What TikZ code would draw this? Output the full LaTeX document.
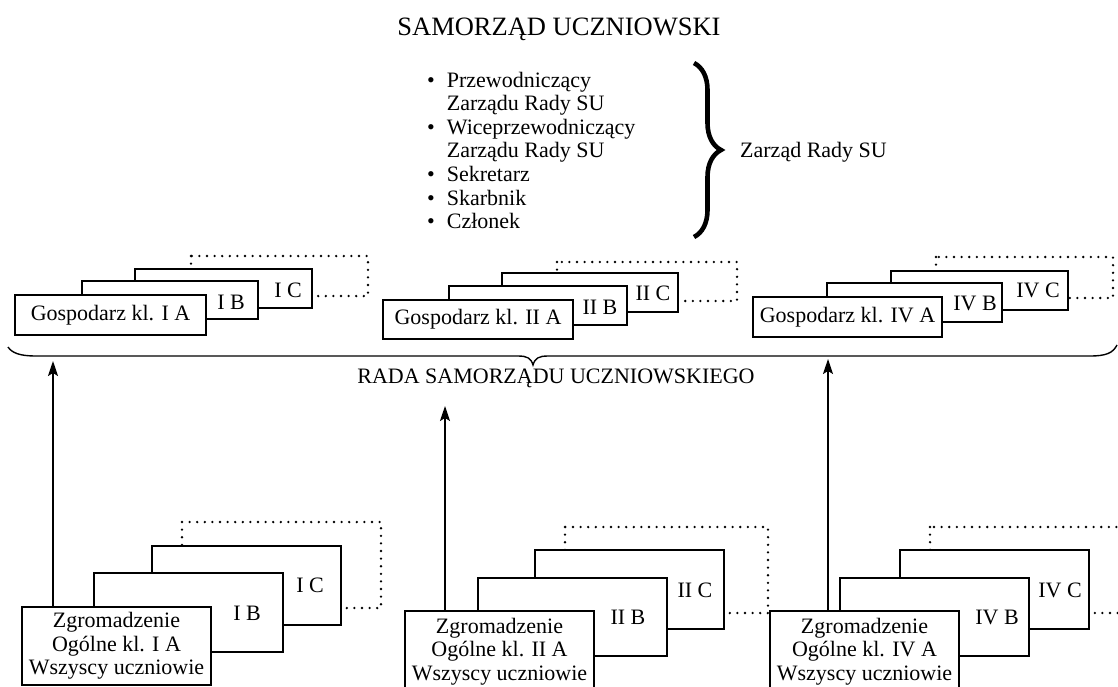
\documentclass[tikz,border=0pt]{standalone}
\usepackage{fontspec}
\setmainfont{Liberation Serif}
\usetikzlibrary{arrows.meta,decorations.pathreplacing}
\newcommand\mybox[6]{\node[card,minimum width=#4pt-#2pt,minimum height=#5pt-#3pt] (#1) at ({(#2+#4)/2},{(#3+#5)/2}) {#6};}
\begin{document}
\begin{tikzpicture}[x=1pt,y=-1pt,
  card/.style={draw, fill=white, line width=1.2pt, inner sep=0pt, align=center,
    font=\fontsize{22}{23.5}\selectfont},
  lbl/.style={inner sep=0pt, font=\fontsize{22}{23.6}\selectfont},
  dots/.style={line width=2.6pt, line cap=round, dash pattern=on 0pt off 7.6pt},
  arr/.style={line width=1.3pt, -{Stealth[length=15pt,width=10pt,inset=3pt]}},
  brc/.style={line width=1.4pt}]
\useasboundingbox (0,0) rectangle (1118,686);
\fill[white] (0,0) rectangle (1118,686);
\clip (0,0) rectangle (1118,686);

% title and board
\node[inner sep=0pt, font=\fontsize{26.5}{30}\selectfont] (title) at (559,29) {SAMORZĄD UCZNIOWSKI};
\node[lbl, anchor=base west] (list) at (427,87) {%
  \begin{tabular}[t]{@{}l@{\hspace{12pt}}l@{}}
  • & Przewodniczący\\
    & Zarządu Rady SU\\
  • & Wiceprzewodniczący\\
    & Zarządu Rady SU\\
  • & Sekretarz\\
  • & Skarbnik\\
  • & Członek
  \end{tabular}};
\draw[line width=4.6pt, decorate, decoration={brace, amplitude=27pt}] (694,63) -- (694,237);
\node[lbl, anchor=west] (zarzad) at (740,152) {Zarząd Rady SU};

% top groups
\draw[dots] (191,256) rectangle (368,296);
\mybox{gC1}{135}{269}{312}{308}{}
\mybox{gB1}{82}{281}{258}{319}{}
\mybox{gA1}{15}{295}{206}{335}{Gospodarz kl. I A}
\node[lbl] (tC1) at (288,290) {I C};
\node[lbl] (tB1) at (231,302) {I B};

\draw[dots] (557,262) rectangle (737,301);
\mybox{gC2}{502}{273}{678}{312}{}
\mybox{gB2}{449}{286}{627}{325}{}
\mybox{gA2}{383}{300}{573}{339}{Gospodarz kl. II A}
\node[lbl] (tC2) at (653,293) {II C};
\node[lbl] (tB2) at (600,307) {II B};

\draw[dots] (936,257) rectangle (1113,298);
\mybox{gC3}{891}{271}{1068}{310}{}
\mybox{gB3}{827}{283}{1002}{322}{}
\mybox{gA3}{753}{297}{942}{337}{Gospodarz kl. IV A}
\node[lbl] (tC3) at (1038,290) {IV C};
\node[lbl] (tB3) at (975,303) {IV B};

% brace under the council
\draw[brc] (8,347) .. controls (12,353) and (20,356) .. (36,356) -- (518,356)
  .. controls (527,356) and (531,358) .. (533,365)
  .. controls (535,358) and (539,356) .. (548,356) -- (1090,356)
  .. controls (1106,356) and (1113,353) .. (1117,345);
\node[lbl] (rada) at (556,378) {RADA SAMORZĄDU UCZNIOWSKIEGO};

% bottom groups
\draw[dots] (182,522) rectangle (381,608);
\mybox{zC1}{152}{546}{341}{625}{}
\mybox{zB1}{94}{573}{283}{652}{}
\mybox{zA1}{22}{607}{211}{685}{Zgromadzenie\\Ogólne kl. I A\\Wszyscy uczniowie}
\node[lbl] (uC1) at (310,585) {I C};
\node[lbl] (uB1) at (247,613) {I B};

\draw[dots] (565,527) rectangle (768,613);
\mybox{zC2}{535}{550}{724}{629}{}
\mybox{zB2}{478}{578}{667}{656}{}
\mybox{zA2}{405}{611}{594}{692}{Zgromadzenie\\Ogólne kl. II A\\Wszyscy uczniowie}
\node[lbl] (uC2) at (695,590) {II C};
\node[lbl] (uB2) at (628,617) {II B};

\draw[dots] (930,527) rectangle (1150,613);
\mybox{zC3}{900}{550}{1089}{629}{}
\mybox{zB3}{840}{578}{1029}{656}{}
\mybox{zA3}{770}{611}{959}{692}{Zgromadzenie\\Ogólne kl. IV A\\Wszyscy uczniowie}
\node[lbl] (uC3) at (1060,590) {IV C};
\node[lbl] (uB3) at (997,617) {IV B};

% arrows
\coordinate (t1) at (53,361);
\coordinate (t2) at (445,406);
\coordinate (t3) at (828,359);
\draw[arr] (zA1.north -| t1) -- (t1);
\draw[arr] (zA2.north -| t2) -- (t2);
\draw[arr] (zA3.north -| t3) -- (t3);
\end{tikzpicture}
\end{document}
